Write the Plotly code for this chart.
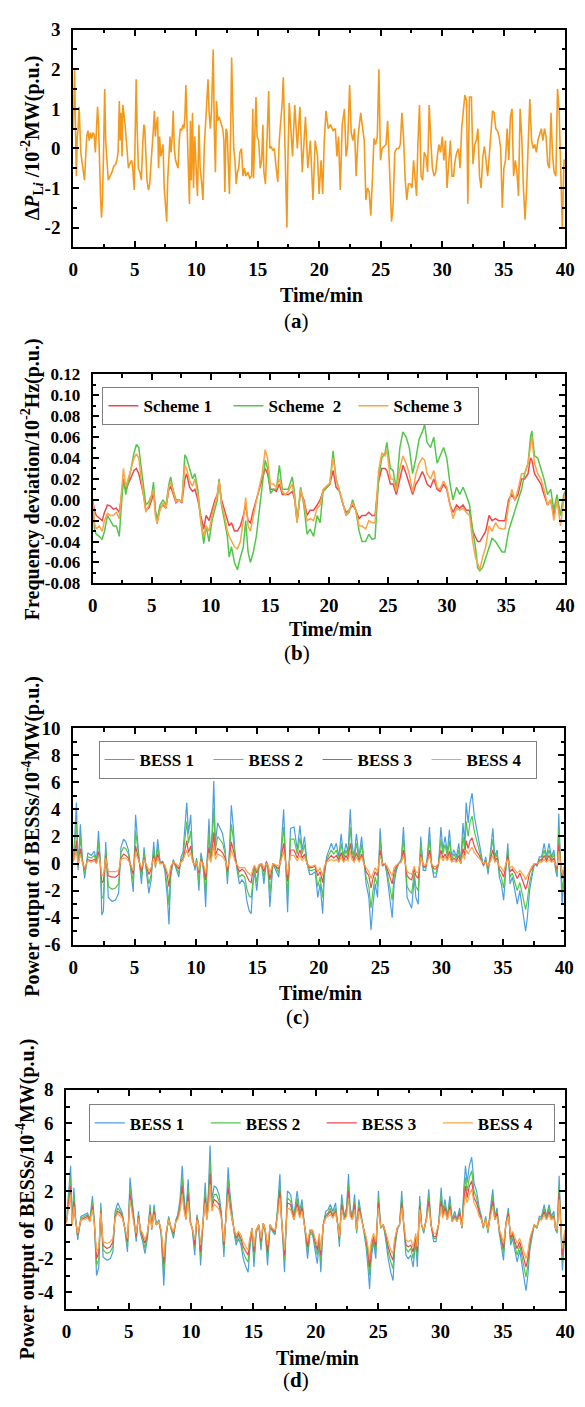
import plotly.graph_objects as go

W, H = 585, 1407
SERIF = "Liberation Serif"

# ---------------- (a) load disturbance ----------------
time_a = [
    0.00, 0.06, 0.11, 0.18, 0.26, 0.33, 0.40, 0.48, 0.55, 0.62,
    0.70, 0.80, 0.92, 1.00, 1.10, 1.20, 1.30, 1.40, 1.50, 1.60,
    1.70, 1.80, 1.90, 1.98, 2.06, 2.14, 2.22, 2.30, 2.38, 2.46,
    2.56, 2.64, 2.74, 2.85, 3.00, 3.15, 3.30, 3.45, 3.55, 3.65,
    3.75, 3.82, 3.90, 3.97, 4.04, 4.12, 4.22, 4.32, 4.40, 4.49,
    4.58, 4.66, 4.75, 4.84, 4.96, 5.04, 5.12, 5.20, 5.30, 5.42,
    5.54, 5.65, 5.74, 5.81, 5.90, 6.00, 6.12, 6.22, 6.32, 6.40,
    6.50, 6.60, 6.68, 6.76, 6.86, 6.94, 7.02, 7.12, 7.22, 7.30,
    7.40, 7.50, 7.60, 7.68, 7.76, 7.87, 7.95, 8.05, 8.13, 8.22,
    8.32, 8.42, 8.52, 8.62, 8.71, 8.82, 8.92, 9.00, 9.08, 9.16,
    9.25, 9.35, 9.45, 9.53, 9.60, 9.70, 9.78, 9.88, 9.98, 10.10,
    10.22, 10.32, 10.45, 10.55, 10.65, 10.75, 10.85, 10.96, 11.05, 11.15,
    11.25, 11.38, 11.47, 11.56, 11.65, 11.75, 11.85, 11.95, 12.05, 12.15,
    12.25, 12.33, 12.42, 12.52, 12.62, 12.70, 12.80, 12.88, 12.97, 13.05,
    13.15, 13.25, 13.35, 13.45, 13.55, 13.68, 13.80, 13.92, 14.04, 14.20,
    14.35, 14.50, 14.60, 14.66, 14.75, 14.86, 14.95, 15.08, 15.20, 15.32,
    15.42, 15.50, 15.63, 15.75, 15.89, 15.98, 16.10, 16.22, 16.35, 16.50,
    16.63, 16.75, 16.90, 17.00, 17.08, 17.15, 17.25, 17.37, 17.46, 17.56,
    17.83, 18.01, 18.22, 18.43, 18.62, 18.88, 19.07, 19.28, 19.49, 19.67,
    19.86, 19.99, 20.15, 20.28, 20.41, 20.55, 20.73, 20.91, 21.13, 21.31,
    21.44, 21.57, 21.71, 21.87, 22.05, 22.18, 22.31, 22.47, 22.60, 22.74,
    22.87, 23.00, 23.16, 23.37, 23.53, 23.66, 23.79, 23.92, 24.06, 24.19,
    24.32, 24.45, 24.58, 24.72, 24.85, 24.98, 25.11, 25.27, 25.43, 25.56,
    25.67, 25.77, 25.88, 26.01, 26.14, 26.30, 26.46, 26.59, 26.72, 26.85,
    26.99, 27.12, 27.25, 27.41, 27.54, 27.67, 27.80, 27.91, 28.02, 28.15,
    28.28, 28.41, 28.54, 28.68, 28.81, 28.94, 29.07, 29.20, 29.34, 29.47,
    29.60, 29.73, 29.86, 30.00, 30.13, 30.26, 30.39, 30.52, 30.66, 30.79,
    30.92, 31.05, 31.18, 31.32, 31.45, 31.58, 31.71, 31.84, 31.98, 32.08,
    32.21, 32.37, 32.50, 32.64, 32.77, 32.90, 33.03, 33.16, 33.30, 33.43,
    33.56, 33.69, 33.82, 33.96, 34.09, 34.22, 34.35, 34.48, 34.62, 34.75,
    34.88, 35.01, 35.14, 35.28, 35.41, 35.54, 35.67, 35.80, 35.94, 36.07,
    36.20, 36.33, 36.46, 36.60, 36.73, 36.86, 36.99, 37.12, 37.26, 37.39,
    37.52, 37.65, 37.78, 37.92, 38.05, 38.18, 38.31, 38.44, 38.58, 38.71,
    38.84, 38.97, 39.10, 39.24, 39.37, 39.50, 39.63, 39.76, 39.90, 40.00,
]
load_dev = [
    0.5, 1.2, 2.0, 0.6, -0.7, 0.3, 0.5, 1.05, 0.3, -0.1,
    -0.3, -0.6, -0.8, -0.3, 0.3, 0.45, 0.2, 0.4, 0.25, 0.4,
    0.35, -0.1, 0.5, 1.05, 0.6, -0.5, -1.2, -1.75, -1.3, -0.2,
    1.5, 0.2, -0.4, -0.8, -0.7, -0.6, -0.45, -0.4, -0.3, -0.1,
    1.2, 0.2, 0.9, -0.2, 1.1, 0.9, 0.6, 0.2, -0.2, -0.5,
    -0.4, -0.35, -0.3, -0.5, -1.05, 0.4, 1.75, 0.5, -0.5, -0.6,
    -0.8, 0.1, 0.6, 0.55, -0.2, -0.8, -1.05, -0.9, -0.4, -0.1,
    0.4, 0.95, 0.3, 0.6, 0.8, -0.5, 0.3, -0.2, 0.0, 0.1,
    -1.0, -1.4, -1.85, -0.8, -0.2, 0.3, -0.1, 0.3, 0.95, 0.0,
    -0.3, -0.4, -0.5, 0.2, 0.5, 0.45, 0.6, 0.5, 0.8, 1.6,
    0.8, -0.3, -1.4, 0.7, -0.8, 0.9, -1.0, 0.3, -0.6, -1.2,
    0.6, -0.5, -0.9, -1.3, 0.0, 0.5, 1.2, 1.75, 0.9, 0.5,
    1.0, 2.5, 0.5, -0.6, 1.2, 0.7, 0.8, 0.7, 0.6, 0.5,
    0.2, -1.1, 0.5, 0.4, -0.5, -1.15, 0.5, 2.3, 1.0, 0.0,
    -0.3, -0.9, -0.6, -0.5, -0.1, 0.0, -0.7, -0.5, -0.7, -0.6,
    -0.75, -0.7, 1.0, -0.75, 0.2, 1.3, 0.3, 0.2, -0.5, -0.3,
    0.6, -0.6, -0.9, 0.1, 1.45, 0.0, 0.05, -0.05, 0.0, -0.5,
    -0.85, 0.2, 0.8, 1.2, 1.8, 0.7, -0.5, -2.0, -0.2, 1.15,
    -0.2, 1.1, 0.0, 1.05, -0.6, 0.8, -0.5, 0.2, -1.3, 0.2,
    -0.2, -1.15, -0.3, -1.15, 0.2, 0.95, 0.5, 0.6, 0.45, 0.5,
    -0.2, 0.3, -1.05, 0.6, 1.0, -0.2, 0.1, 1.6, 0.4, 0.2,
    0.5, -0.7, 0.3, 0.9, 0.5, 0.2, -1.3, -1.0, -1.1, -1.7,
    -0.8, 0.25, 0.1, 0.3, 2.0, -0.3, 0.0, 0.05, 0.1, 0.7,
    -0.2, -1.4, -1.85, -1.4, -0.1, 0.0, 0.0, 0.1, 0.9, 0.3,
    -0.8, -1.3, -0.9, -0.9, -1.0, -0.3, -0.8, -1.2, 0.1, 1.1,
    -0.7, -0.8, -0.1, -0.2, -0.6, 1.1, 0.2, -0.5, -0.7, -0.6,
    -0.2, 0.1, -0.1, 0.3, -0.3, 0.2, -1.0, -0.5, 0.2, -0.7,
    -0.7, -0.3, -0.1, 0.0, -0.5, 0.5, 1.0, 1.35, 1.2, -1.4,
    1.3, 1.3, -0.4, 0.1, 0.2, 0.5, -0.7, -1.0, -0.2, 0.05,
    -0.3, -0.7, -0.2, 0.4, 0.95, 0.9, 0.5, 0.45, 0.3, 0.0,
    -1.5, -0.5, -0.3, 0.5, -0.3, 0.8, 1.0, -0.7, -0.3, -0.6,
    -1.2, 1.0, 0.3, -1.0, -1.8, -1.0, 0.3, 1.25, 0.2, 0.0,
    0.1, -0.1, 0.2, 0.35, 0.5, 0.2, 0.5, 0.3, -0.4, -0.5,
    0.9, -0.2, -0.6, -0.7, 1.5, 1.0, -0.8, -2.0, -0.3, -0.3,
]

# ---------------- (b) frequency deviation ----------------
time_b = [
    0.0, 0.15, 0.3, 0.55, 0.8, 1.0, 1.25, 1.5, 1.75, 2.0,
    2.25, 2.4, 2.6, 2.8, 3.0, 3.25, 3.5, 3.7, 3.9, 4.1,
    4.3, 4.5, 4.75, 5.0, 5.15, 5.3, 5.45, 5.7, 5.95, 6.2,
    6.45, 6.6, 6.8, 7.05, 7.3, 7.55, 7.8, 7.95, 8.2, 8.45,
    8.65, 8.9, 9.15, 9.4, 9.6, 9.85, 10.1, 10.35, 10.55, 10.7,
    10.9, 11.15, 11.4, 11.55, 11.75, 12.0, 12.25, 12.5, 12.75, 12.95,
    13.15, 13.35, 13.6, 13.85, 14.1, 14.35, 14.6, 14.8, 15.05, 15.3,
    15.55, 15.8, 16.05, 16.3, 16.55, 16.9, 17.1, 17.3, 17.6, 17.87,
    18.15, 18.4, 18.7, 19.0, 19.25, 19.5, 19.8, 20.07, 20.35, 20.6,
    20.9, 21.2, 21.45, 21.7, 22.0, 22.27, 22.55, 22.8, 23.1, 23.37,
    23.65, 23.9, 24.2, 24.47, 24.75, 24.9, 25.2, 25.43, 25.7, 26.0,
    26.26, 26.53, 26.8, 27.08, 27.36, 27.63, 27.9, 28.1, 28.3, 28.6,
    28.87, 29.15, 29.4, 29.7, 29.97, 30.25, 30.5, 30.8, 31.07, 31.35,
    31.6, 31.9, 32.17, 32.4, 32.58, 32.77, 33.0, 33.27, 33.55, 33.8,
    34.1, 34.37, 34.65, 34.9, 35.2, 35.47, 35.74, 36.0, 36.3, 36.57,
    36.85, 37.06, 37.17, 37.4, 37.67, 37.94, 38.2, 38.5, 38.77, 39.04,
    39.3, 39.6, 39.87, 40.0,
]
scheme1 = [
    0.0, -0.01, -0.015, -0.018, -0.02, -0.012, -0.005, -0.006, -0.009, -0.008,
    -0.012, 0.0, 0.02, 0.01, 0.015, 0.022, 0.028, 0.03, 0.025, 0.015,
    0.005, -0.01, -0.008, 0.0, 0.008, -0.01, -0.02, -0.008, -0.005, -0.008,
    0.01, 0.013, 0.005, -0.003, 0.0, -0.003, 0.02, 0.025, 0.012, 0.008,
    0.01, 0.0, -0.015, -0.028, -0.015, -0.02, -0.01, 0.0, 0.005, 0.018,
    0.0, -0.01, -0.02, -0.025, -0.022, -0.03, -0.03, -0.025, -0.015, -0.005,
    -0.02, -0.022, -0.01, 0.0, 0.01, 0.02, 0.03, 0.025, 0.01, 0.01,
    0.008, 0.015, 0.005, 0.005, 0.005, 0.008, 0.0, -0.02, 0.008, 0.0,
    -0.015, -0.01, -0.01, -0.005, 0.0, 0.008, 0.012, 0.015, 0.028, 0.012,
    0.008, -0.005, -0.012, -0.01, -0.005, -0.01, -0.018, -0.015, -0.015, -0.012,
    -0.015, -0.015, 0.018, 0.03, 0.03, 0.028, 0.015, 0.015, 0.005, 0.02,
    0.033, 0.025, 0.015, 0.005, 0.015, 0.02, 0.027, 0.022, 0.015, 0.012,
    0.02, 0.01, 0.008, 0.015, 0.01, -0.005, -0.012, -0.005, -0.008, -0.005,
    -0.01, -0.01, -0.03, -0.035, -0.04, -0.04, -0.035, -0.03, -0.015, -0.02,
    -0.018, -0.02, -0.02, -0.02, 0.0, 0.005, 0.0, 0.005, 0.02, 0.02,
    0.025, 0.04, 0.038, 0.025, 0.02, 0.015, 0.005, -0.005, 0.0, -0.015,
    0.0, -0.015, 0.002, 0.005,
]
scheme2 = [
    0.0, -0.028, -0.033, -0.035, -0.038, -0.03, -0.015, -0.02, -0.025, -0.025,
    -0.035, -0.01, 0.02, 0.005, 0.015, 0.03, 0.045, 0.053, 0.05, 0.03,
    0.01, -0.005, -0.002, 0.005, 0.017, -0.01, -0.02, -0.005, 0.0, -0.005,
    0.015, 0.022, 0.01, 0.0, 0.0, -0.002, 0.043, 0.04, 0.03, 0.02,
    0.025, 0.01, -0.02, -0.042, -0.025, -0.04, -0.02, -0.008, 0.0, 0.02,
    -0.005, -0.02, -0.035, -0.055, -0.045, -0.06, -0.067, -0.055, -0.045, -0.02,
    -0.05, -0.06, -0.05, -0.035, -0.01, 0.015, 0.038, 0.03, 0.006, 0.01,
    0.01, 0.033, 0.01, 0.01, 0.01, 0.022, 0.005, -0.022, 0.012, -0.005,
    -0.033, -0.028, -0.035, -0.015, -0.022, 0.008, 0.012, 0.015, 0.047, 0.02,
    0.008, -0.005, -0.015, -0.012, 0.0, -0.01, -0.03, -0.04, -0.04, -0.033,
    -0.038, -0.037, 0.02, 0.04, 0.045, 0.055, 0.03, 0.028, 0.01, 0.05,
    0.065, 0.06, 0.05, 0.025, 0.04, 0.058, 0.065, 0.072, 0.055, 0.05,
    0.06, 0.035, 0.042, 0.05, 0.04, 0.015, 0.0, 0.012, 0.005, 0.012,
    0.005, -0.005, -0.03, -0.045, -0.065, -0.068, -0.065, -0.055, -0.045, -0.037,
    -0.04, -0.045, -0.05, -0.05, -0.03, -0.02, -0.01, 0.0, 0.01, 0.025,
    0.035, 0.06, 0.066, 0.042, 0.04, 0.03, 0.02, 0.005, 0.01, -0.01,
    0.005, -0.015, 0.005, 0.008,
]
scheme3 = [
    0.0, -0.022, -0.028, -0.025, -0.03, -0.02, -0.013, -0.015, -0.015, -0.012,
    -0.018, 0.0, 0.03, 0.012, 0.02, 0.03, 0.04, 0.044, 0.04, 0.02,
    0.005, -0.012, -0.005, 0.005, 0.01, -0.015, -0.023, -0.01, -0.003, -0.008,
    0.012, 0.017, 0.008, -0.002, 0.0, -0.002, 0.033, 0.03, 0.018, 0.013,
    0.02, 0.005, -0.02, -0.035, -0.025, -0.03, -0.015, -0.005, 0.005, 0.018,
    -0.003, -0.015, -0.03, -0.035, -0.04, -0.045, -0.047, -0.04, -0.02, 0.002,
    -0.025, -0.03, -0.015, 0.0, 0.012, 0.025, 0.048, 0.04, 0.015, 0.015,
    0.012, 0.02, 0.008, 0.005, 0.008, 0.015, 0.0, -0.022, 0.01, -0.002,
    -0.02, -0.018, -0.02, -0.008, -0.005, 0.01, 0.013, 0.016, 0.04, 0.02,
    0.008, -0.005, -0.015, -0.01, -0.003, -0.01, -0.025, -0.025, -0.028, -0.02,
    -0.022, -0.022, 0.028, 0.045, 0.042, 0.048, 0.02, 0.02, 0.008, 0.03,
    0.042, 0.035, 0.025, 0.007, 0.025, 0.035, 0.04, 0.038, 0.025, 0.02,
    0.028, 0.012, 0.01, 0.018, 0.012, -0.005, -0.018, -0.008, -0.01, -0.008,
    -0.012, -0.015, -0.04, -0.055, -0.062, -0.067, -0.055, -0.045, -0.025, -0.03,
    -0.022, -0.027, -0.028, -0.028, -0.005, 0.01, 0.0, 0.01, 0.025, 0.025,
    0.035, 0.055, 0.06, 0.035, 0.025, 0.02, 0.01, -0.005, 0.0, -0.02,
    0.0, -0.025, 0.0, 0.005,
]

# ---------------- (c) BESS outputs, case 1 ----------------
time_c = [
    0.00, 0.13, 0.26, 0.40, 0.58, 0.74, 0.93, 1.19, 1.46, 1.72,
    1.90, 2.06, 2.20, 2.33, 2.46, 2.65, 2.86, 3.17, 3.44, 3.70,
    3.89, 4.10, 4.28, 4.50, 4.70, 4.89, 5.08, 5.21, 5.37, 5.56,
    5.77, 5.95, 6.16, 6.35, 6.56, 6.70, 6.88, 7.09, 7.28, 7.46,
    7.67, 7.80, 7.94, 8.15, 8.33, 8.60, 8.78, 8.94, 9.04, 9.25,
    9.39, 9.57, 9.73, 9.92, 10.05, 10.24, 10.40, 10.53, 10.66, 10.79,
    10.92, 11.06, 11.19, 11.32, 11.45, 11.58, 11.77, 11.95, 12.17, 12.38,
    12.56, 12.70, 12.88, 13.03, 13.16, 13.35, 13.54, 13.75, 13.97, 14.15,
    14.34, 14.50, 14.60, 14.76, 14.95, 15.13, 15.34, 15.53, 15.74, 15.87,
    16.02, 16.27, 16.53, 16.74, 16.93, 17.14, 17.27, 17.46, 17.70, 17.99,
    18.25, 18.47, 18.65, 18.84, 19.05, 19.26, 19.44, 19.71, 19.92, 20.11,
    20.32, 20.45, 20.64, 20.85, 21.03, 21.22, 21.43, 21.64, 21.83, 22.01,
    22.22, 22.38, 22.57, 22.70, 22.88, 23.07, 23.28, 23.49, 23.68, 23.86,
    24.08, 24.26, 24.42, 24.60, 24.79, 25.00, 25.19, 25.40, 25.58, 25.80,
    25.98, 26.14, 26.32, 26.51, 26.72, 26.90, 27.04, 27.20, 27.38, 27.57,
    27.78, 27.91, 28.10, 28.31, 28.52, 28.71, 28.84, 29.02, 29.18, 29.37,
    29.55, 29.76, 29.95, 30.11, 30.29, 30.48, 30.64, 30.82, 31.01, 31.22,
    31.41, 31.56, 31.75, 31.88, 32.01, 32.17, 32.33, 32.49, 32.67, 32.86,
    33.07, 33.26, 33.42, 33.60, 33.79, 34.00, 34.18, 34.34, 34.53, 34.71,
    34.87, 35.06, 35.24, 35.40, 35.58, 35.77, 35.98, 36.17, 36.38, 36.56,
    36.72, 36.85, 36.99, 37.17, 37.36, 37.57, 37.78, 37.97, 38.15, 38.36,
    38.55, 38.76, 38.95, 39.16, 39.29, 39.42, 39.55, 39.68, 39.82, 39.95,
    40.00,
]
c_bess1 = [
    0.3, 2.0, 4.5, -0.5, 2.9, 0.5, -1.1, 0.8, 0.6, 0.9,
    0.2, 2.4, 0.3, -3.8, -3.5, 1.6, -2.5, -2.8, -2.7, -2.2,
    1.2, 1.8, 1.6, 1.0, -0.5, -2.1, 3.6, 2.0, 0.3, -1.5,
    1.2, -0.5, -2.2, -1.2, 1.6, -0.3, 1.8, 0.0, 0.2, -0.5,
    -2.5, -4.5, -1.0, 0.3, -0.2, -1.0, 0.5, 0.8, 2.0, 4.5,
    2.2, 3.6, 0.5, -0.5, 0.4, -2.0, 0.8, 0.2, -1.0, -3.2,
    0.5, 3.3, 0.4, 2.5, 6.1, 1.5, 3.0, 2.6, 2.2, 1.0,
    -1.5, 0.5, 4.3, 2.8, 1.0, -0.5, -1.5, -1.2, -1.5, -2.8,
    -3.5, -3.7, -2.0, -0.5, -2.0, -0.3, 0.0, -1.5, 0.2, -0.5,
    -3.2, 0.0, -0.5, -1.0, 1.0, 4.0, 1.0, -3.6, 2.6, 2.7,
    1.0, 2.8, 1.0, 2.0, 0.0, -0.8, -0.8, -0.6, -2.5, -1.5,
    -3.7, -1.0, 0.5, 1.0, 1.5, 1.0, 1.5, 0.5, 2.2, 0.5,
    1.5, 0.8, 4.0, 1.5, 0.5, 2.2, 0.5, 2.0, 0.2, -1.5,
    -2.5, -4.9, -3.0, -1.5, -2.5, 2.6, -0.2, 0.0, -1.0, -2.8,
    -4.0, -1.5, -0.5, 0.0, 0.3, 2.7, 0.0, -2.5, -2.9, -3.3,
    -1.0, -2.5, -3.0, 2.0, -0.5, -0.5, 0.5, 2.7, 0.0, -1.0,
    -1.0, 0.0, 2.7, 1.0, 2.0, 0.8, 2.5, 0.5, 1.0, 0.5,
    1.5, 0.0, 3.0, 1.5, 4.5, 3.0, 4.5, 5.2, 3.5, 2.5,
    1.5, 0.5, -0.2, 0.5, -0.8, 1.0, 2.6, 0.5, 1.0, -1.0,
    -1.5, -2.7, 0.0, 1.5, -1.5, -1.0, -2.0, -3.0, -2.0, -3.2,
    -4.0, -5.0, -4.0, -2.0, -1.0, 0.0, -0.2, 0.5, 0.5, 1.5,
    0.5, 1.5, 0.5, 1.0, -0.5, -1.0, 3.7, 0.5, -3.0, -1.5,
    -1.0,
]
c_bess2 = [
    0.2, 1.4, 3.1, -0.3, 2.0, 0.3, -0.7, 0.5, 0.4, 0.6,
    0.1, 1.6, 0.2, -2.6, -2.4, 1.1, -1.7, -1.9, -1.8, -1.5,
    0.8, 1.2, 1.1, 0.7, -0.3, -1.4, 2.4, 1.4, 0.2, -1.0,
    0.8, -0.3, -1.5, -0.8, 1.1, -0.2, 1.2, 0.0, 0.1, -0.3,
    -1.7, -3.1, -0.7, 0.2, -0.1, -0.7, 0.3, 0.5, 1.4, 3.1,
    1.5, 2.4, 0.3, -0.3, 0.3, -1.4, 0.5, 0.1, -0.7, -2.2,
    0.3, 2.2, 0.3, 1.7, 4.1, 1.0, 2.0, 1.8, 1.5, 0.7,
    -1.0, 0.3, 2.9, 1.9, 0.7, -0.3, -1.0, -0.8, -1.0, -1.9,
    -2.4, -2.5, -1.4, -0.3, -1.4, -0.2, 0.0, -1.0, 0.1, -0.3,
    -2.2, 0.0, -0.3, -0.7, 0.7, 2.7, 0.7, -2.4, 1.8, 1.8,
    0.7, 1.9, 0.7, 1.4, 0.0, -0.5, -0.5, -0.4, -1.7, -1.0,
    -2.5, -0.7, 0.3, 0.7, 1.0, 0.7, 1.0, 0.3, 1.5, 0.3,
    1.0, 0.5, 2.7, 1.0, 0.3, 1.5, 0.3, 1.4, 0.1, -1.0,
    -1.7, -3.3, -2.0, -1.0, -1.7, 1.8, -0.1, 0.0, -0.7, -1.9,
    -2.7, -1.0, -0.3, 0.0, 0.2, 1.8, 0.0, -1.7, -2.0, -2.2,
    -0.7, -1.7, -2.0, 1.4, -0.3, -0.3, 0.3, 1.8, 0.0, -0.7,
    -0.7, 0.0, 1.8, 0.7, 1.4, 0.5, 1.7, 0.3, 0.7, 0.3,
    1.0, 0.0, 2.0, 1.0, 3.1, 2.0, 3.1, 3.5, 2.4, 1.7,
    1.0, 0.3, -0.1, 0.3, -0.5, 0.7, 1.8, 0.3, 0.7, -0.7,
    -1.0, -1.8, 0.0, 1.0, -1.0, -0.7, -1.4, -2.0, -1.4, -2.2,
    -2.7, -3.4, -2.7, -1.4, -0.7, 0.0, -0.1, 0.3, 0.3, 1.0,
    0.3, 1.0, 0.3, 0.7, -0.3, -0.7, 2.5, 0.3, -2.0, -1.0,
    -0.7,
]
c_bess3 = [
    0.1, 0.7, 1.7, -0.2, 1.1, 0.2, -0.4, 0.3, 0.2, 0.3,
    0.1, 0.9, 0.1, -1.4, -1.3, 0.6, -0.9, -1.0, -1.0, -0.8,
    0.4, 0.7, 0.6, 0.4, -0.2, -0.8, 1.3, 0.7, 0.1, -0.6,
    0.4, -0.2, -0.8, -0.4, 0.6, -0.1, 0.7, 0.0, 0.1, -0.2,
    -0.9, -1.7, -0.4, 0.1, -0.1, -0.4, 0.2, 0.3, 0.7, 1.7,
    0.8, 1.3, 0.2, -0.2, 0.1, -0.7, 0.3, 0.1, -0.4, -1.2,
    0.2, 1.2, 0.1, 0.9, 2.3, 0.6, 1.1, 1.0, 0.8, 0.4,
    -0.6, 0.2, 1.6, 1.0, 0.4, -0.2, -0.6, -0.4, -0.6, -1.0,
    -1.3, -1.4, -0.7, -0.2, -0.7, -0.1, 0.0, -0.6, 0.1, -0.2,
    -1.2, 0.0, -0.2, -0.4, 0.4, 1.5, 0.4, -1.3, 1.0, 1.0,
    0.4, 1.0, 0.4, 0.7, 0.0, -0.3, -0.3, -0.2, -0.9, -0.6,
    -1.4, -0.4, 0.2, 0.4, 0.6, 0.4, 0.6, 0.2, 0.8, 0.2,
    0.6, 0.3, 1.5, 0.6, 0.2, 0.8, 0.2, 0.7, 0.1, -0.6,
    -0.9, -1.8, -1.1, -0.6, -0.9, 1.0, -0.1, 0.0, -0.4, -1.0,
    -1.5, -0.6, -0.2, 0.0, 0.1, 1.0, 0.0, -0.9, -1.1, -1.2,
    -0.4, -0.9, -1.1, 0.7, -0.2, -0.2, 0.2, 1.0, 0.0, -0.4,
    -0.4, 0.0, 1.0, 0.4, 0.7, 0.3, 0.9, 0.2, 0.4, 0.2,
    0.6, 0.0, 1.1, 0.6, 1.7, 1.1, 1.7, 1.9, 1.3, 0.9,
    0.6, 0.2, -0.1, 0.2, -0.3, 0.4, 1.0, 0.2, 0.4, -0.4,
    -0.6, -1.0, 0.0, 0.6, -0.6, -0.4, -0.7, -1.1, -0.7, -1.2,
    -1.5, -1.9, -1.5, -0.7, -0.4, 0.0, -0.1, 0.2, 0.2, 0.6,
    0.2, 0.6, 0.2, 0.4, -0.2, -0.4, 1.4, 0.2, -1.1, -0.6,
    -0.4,
]
c_bess4 = [
    0.1, 0.5, 1.0, -0.1, 0.7, 0.1, -0.3, 0.2, 0.1, 0.2,
    0.0, 0.6, 0.1, -0.9, -0.8, 0.4, -0.6, -0.6, -0.6, -0.5,
    0.3, 0.4, 0.4, 0.2, -0.1, -0.5, 0.8, 0.5, 0.1, -0.3,
    0.3, -0.1, -0.5, -0.3, 0.4, -0.1, 0.4, 0.0, 0.0, -0.1,
    -0.6, -1.0, -0.2, 0.1, 0.0, -0.2, 0.1, 0.2, 0.5, 1.0,
    0.5, 0.8, 0.1, -0.1, 0.1, -0.5, 0.2, 0.0, -0.2, -0.7,
    0.1, 0.8, 0.1, 0.6, 1.4, 0.3, 0.7, 0.6, 0.5, 0.2,
    -0.3, 0.1, 1.0, 0.6, 0.2, -0.1, -0.3, -0.3, -0.3, -0.6,
    -0.8, -0.9, -0.5, -0.1, -0.5, -0.1, 0.0, -0.3, 0.0, -0.1,
    -0.7, 0.0, -0.1, -0.2, 0.2, 0.9, 0.2, -0.8, 0.6, 0.6,
    0.2, 0.6, 0.2, 0.5, 0.0, -0.2, -0.2, -0.1, -0.6, -0.3,
    -0.9, -0.2, 0.1, 0.2, 0.3, 0.2, 0.3, 0.1, 0.5, 0.1,
    0.3, 0.2, 0.9, 0.3, 0.1, 0.5, 0.1, 0.5, 0.0, -0.3,
    -0.6, -1.1, -0.7, -0.3, -0.6, 0.6, 0.0, 0.0, -0.2, -0.6,
    -0.9, -0.3, -0.1, 0.0, 0.1, 0.6, 0.0, -0.6, -0.7, -0.8,
    -0.2, -0.6, -0.7, 0.5, -0.1, -0.1, 0.1, 0.6, 0.0, -0.2,
    -0.2, 0.0, 0.6, 0.2, 0.5, 0.2, 0.6, 0.1, 0.2, 0.1,
    0.3, 0.0, 0.7, 0.3, 1.0, 0.7, 1.0, 1.2, 0.8, 0.6,
    0.3, 0.1, 0.0, 0.1, -0.2, 0.2, 0.6, 0.1, 0.2, -0.2,
    -0.3, -0.6, 0.0, 0.3, -0.3, -0.2, -0.5, -0.7, -0.5, -0.7,
    -0.9, -1.2, -0.9, -0.5, -0.2, 0.0, 0.0, 0.1, 0.1, 0.3,
    0.1, 0.3, 0.1, 0.2, -0.1, -0.2, 0.9, 0.1, -0.7, -0.3,
    -0.2,
]

# ---------------- (d) BESS outputs, case 2 ----------------
time_d = [
    0.00, 0.16, 0.34, 0.47, 0.60, 0.73, 0.91, 1.17, 1.43, 1.70,
    1.88, 2.09, 2.24, 2.42, 2.60, 2.76, 2.94, 3.26, 3.52, 3.73,
    3.91, 4.12, 4.30, 4.48, 4.69, 4.90, 5.10, 5.26, 5.42, 5.60,
    5.78, 5.94, 6.12, 6.30, 6.50, 6.71, 6.85, 7.03, 7.21, 7.42,
    7.60, 7.81, 8.00, 8.20, 8.38, 8.59, 8.78, 8.93, 9.11, 9.29,
    9.42, 9.58, 9.76, 9.94, 10.10, 10.29, 10.47, 10.60, 10.76, 10.95,
    11.13, 11.26, 11.39, 11.52, 11.67, 11.85, 12.03, 12.24, 12.42, 12.63,
    12.76, 12.97, 13.10, 13.28, 13.46, 13.61, 13.80, 14.00, 14.18, 14.39,
    14.57, 14.70, 14.88, 15.04, 15.22, 15.43, 15.60, 15.79, 15.95, 16.13,
    16.34, 16.52, 16.73, 16.91, 17.12, 17.25, 17.49, 17.72, 17.98, 18.24,
    18.50, 18.71, 18.89, 19.15, 19.34, 19.54, 19.75, 19.94, 20.12, 20.27,
    20.40, 20.59, 20.80, 20.98, 21.16, 21.37, 21.58, 21.76, 21.89, 22.07,
    22.28, 22.46, 22.62, 22.75, 22.93, 23.11, 23.27, 23.45, 23.66, 23.84,
    24.03, 24.18, 24.31, 24.44, 24.63, 24.81, 25.02, 25.20, 25.41, 25.59,
    25.80, 26.01, 26.19, 26.32, 26.53, 26.71, 26.89, 27.05, 27.23, 27.41,
    27.62, 27.80, 28.01, 28.14, 28.33, 28.48, 28.66, 28.87, 29.06, 29.24,
    29.45, 29.63, 29.84, 30.05, 30.18, 30.36, 30.54, 30.75, 30.93, 31.14,
    31.32, 31.53, 31.71, 31.87, 32.00, 32.13, 32.31, 32.50, 32.68, 32.89,
    33.10, 33.28, 33.43, 33.62, 33.80, 34.01, 34.19, 34.35, 34.53, 34.71,
    34.87, 35.05, 35.23, 35.44, 35.62, 35.78, 35.96, 36.14, 36.35, 36.54,
    36.69, 36.85, 37.00, 37.16, 37.32, 37.52, 37.73, 37.92, 38.10, 38.31,
    38.49, 38.70, 38.88, 39.09, 39.22, 39.35, 39.51, 39.61, 39.77, 39.92,
    40.00,
]
d_bess1 = [
    0.2, 2.0, 3.5, 0.0, 2.2, 0.5, -0.9, 0.5, 0.6, 0.7,
    0.3, 1.7, 0.2, -3.0, -2.5, 1.3, -1.9, -2.1, -2.0, -1.6,
    0.8, 1.3, 1.0, 0.7, -0.3, -1.6, 2.8, 1.5, 0.0, -1.0,
    0.8, -0.5, -1.0, -1.7, -0.8, 1.2, -0.3, 1.2, 0.0, 0.3,
    -0.6, -3.6, -0.7, 0.5, -0.2, -0.8, 0.3, 0.6, 1.5, 3.5,
    1.8, 0.5, 2.7, 0.2, -0.3, -1.8, 0.6, 0.0, -2.4, 0.3,
    2.5, 0.5, 2.0, 4.7, 1.5, 2.3, 2.2, 1.8, 0.8, -1.9,
    0.5, 3.4, 2.0, 0.5, -0.5, -1.2, -0.8, -1.2, -2.0, -2.5,
    -2.8, -1.5, -0.3, -2.5, -0.5, 0.0, -1.5, 0.1, -0.5, -2.4,
    0.0, -0.4, -0.6, 0.8, 3.0, 0.5, -2.8, 2.0, 1.8, 0.5,
    2.0, 0.8, 1.5, -0.5, -2.0, -0.5, -0.6, -1.5, -2.3, -1.0,
    -2.8, 0.0, 0.8, 0.9, 1.2, 0.8, 1.3, 0.0, -1.3, 1.8,
    0.5, 1.0, 3.0, 1.0, 0.5, 1.8, -0.5, 1.5, 0.5, -0.5,
    -1.3, -2.5, -3.8, -2.0, -1.0, -2.0, 2.0, -0.2, 0.0, -0.8,
    -2.0, -2.8, -3.3, -1.5, -0.3, 0.0, 2.0, 0.0, -1.8, -2.0,
    -1.8, -2.5, -1.0, -2.5, 1.7, 0.0, -0.5, 0.5, 2.1, 0.0,
    -1.0, -1.0, 0.0, 2.2, 0.8, 1.5, 0.5, 1.7, 0.3, 0.8,
    0.3, 1.0, -0.2, 2.2, 3.5, 2.5, 3.5, 4.0, 2.5, 2.0,
    1.0, 0.5, -0.2, 0.5, -0.5, 1.0, 2.1, 0.5, 1.0, -0.5,
    -1.2, -2.1, 0.0, 1.0, -1.2, -0.8, -1.5, -2.2, -1.5, -2.5,
    -3.0, -3.9, -3.0, -1.5, -0.8, 0.0, -0.2, 0.5, 0.5, 1.2,
    0.5, 1.2, 0.5, 0.8, -0.3, -0.5, 2.9, 0.5, -2.7, -1.0,
    -0.5,
]
d_bess2 = [
    0.2, 1.6, 2.8, 0.0, 1.8, 0.4, -0.7, 0.4, 0.5, 0.6,
    0.2, 1.4, 0.2, -2.4, -2.0, 1.0, -1.5, -1.7, -1.6, -1.3,
    0.6, 1.0, 0.8, 0.6, -0.2, -1.3, 2.2, 1.2, 0.0, -0.8,
    0.6, -0.4, -0.8, -1.4, -0.6, 1.0, -0.2, 1.0, 0.0, 0.2,
    -0.5, -2.9, -0.6, 0.4, -0.2, -0.6, 0.2, 0.5, 1.2, 2.8,
    1.4, 0.4, 2.2, 0.2, -0.2, -1.4, 0.5, 0.0, -1.9, 0.2,
    2.0, 0.4, 1.6, 3.8, 1.2, 1.8, 1.8, 1.4, 0.6, -1.5,
    0.4, 2.7, 1.6, 0.4, -0.4, -1.0, -0.6, -1.0, -1.6, -2.0,
    -2.2, -1.2, -0.2, -2.0, -0.4, 0.0, -1.2, 0.1, -0.4, -1.9,
    0.0, -0.3, -0.5, 0.6, 2.4, 0.4, -2.2, 1.6, 1.4, 0.4,
    1.6, 0.6, 1.2, -0.4, -1.6, -0.4, -0.5, -1.2, -1.8, -0.8,
    -2.2, 0.0, 0.6, 0.7, 1.0, 0.6, 1.0, 0.0, -1.0, 1.4,
    0.4, 0.8, 2.4, 0.8, 0.4, 1.4, -0.4, 1.2, 0.4, -0.4,
    -1.0, -2.0, -3.0, -1.6, -0.8, -1.6, 1.6, -0.2, 0.0, -0.6,
    -1.6, -2.2, -2.6, -1.2, -0.2, 0.0, 1.6, 0.0, -1.4, -1.6,
    -1.4, -2.0, -0.8, -2.0, 1.4, 0.0, -0.4, 0.4, 1.7, 0.0,
    -0.8, -0.8, 0.0, 1.8, 0.6, 1.2, 0.4, 1.4, 0.2, 0.6,
    0.2, 0.8, -0.2, 1.8, 2.8, 2.0, 2.8, 3.2, 2.0, 1.6,
    0.8, 0.4, -0.2, 0.4, -0.4, 0.8, 1.7, 0.4, 0.8, -0.4,
    -1.0, -1.7, 0.0, 0.8, -1.0, -0.6, -1.2, -1.8, -1.2, -2.0,
    -2.4, -3.1, -2.4, -1.2, -0.6, 0.0, -0.2, 0.4, 0.4, 1.0,
    0.4, 1.0, 0.4, 0.6, -0.2, -0.4, 2.3, 0.4, -2.2, -0.8,
    -0.4,
]
d_bess3 = [
    0.1, 1.3, 2.3, 0.0, 1.4, 0.3, -0.6, 0.3, 0.4, 0.5,
    0.2, 1.1, 0.1, -2.0, -1.6, 0.8, -1.2, -1.4, -1.3, -1.0,
    0.5, 0.8, 0.7, 0.5, -0.2, -1.0, 1.8, 1.0, 0.0, -0.7,
    0.5, -0.3, -0.7, -1.1, -0.5, 0.8, -0.2, 0.8, 0.0, 0.2,
    -0.4, -2.3, -0.5, 0.3, -0.1, -0.5, 0.2, 0.4, 1.0, 2.3,
    1.2, 0.3, 1.8, 0.1, -0.2, -1.2, 0.4, 0.0, -1.6, 0.2,
    1.6, 0.3, 1.3, 3.0, 1.0, 1.5, 1.4, 1.2, 0.5, -1.2,
    0.3, 2.2, 1.3, 0.3, -0.3, -0.8, -0.5, -0.8, -1.3, -1.6,
    -1.8, -1.0, -0.2, -1.6, -0.3, 0.0, -1.0, 0.1, -0.3, -1.6,
    0.0, -0.3, -0.4, 0.5, 2.0, 0.3, -1.8, 1.3, 1.2, 0.3,
    1.3, 0.5, 1.0, -0.3, -1.3, -0.3, -0.4, -1.0, -1.5, -0.7,
    -1.8, 0.0, 0.5, 0.6, 0.8, 0.5, 0.8, 0.0, -0.8, 1.2,
    0.3, 0.7, 2.0, 0.7, 0.3, 1.2, -0.3, 1.0, 0.3, -0.3,
    -0.8, -1.6, -2.5, -1.3, -0.7, -1.3, 1.3, -0.1, 0.0, -0.5,
    -1.3, -1.8, -2.1, -1.0, -0.2, 0.0, 1.3, 0.0, -1.2, -1.3,
    -1.2, -1.6, -0.7, -1.6, 1.1, 0.0, -0.3, 0.3, 1.4, 0.0,
    -0.7, -0.7, 0.0, 1.4, 0.5, 1.0, 0.3, 1.1, 0.2, 0.5,
    0.2, 0.7, -0.1, 1.4, 2.3, 1.6, 2.3, 2.6, 1.6, 1.3,
    0.7, 0.3, -0.1, 0.3, -0.3, 0.7, 1.4, 0.3, 0.7, -0.3,
    -0.8, -1.4, 0.0, 0.7, -0.8, -0.5, -1.0, -1.4, -1.0, -1.6,
    -2.0, -2.5, -2.0, -1.0, -0.5, 0.0, -0.1, 0.3, 0.3, 0.8,
    0.3, 0.8, 0.3, 0.5, -0.2, -0.3, 1.9, 0.3, -1.8, -0.7,
    -0.3,
]
d_bess4 = [
    0.1, 1.0, 1.8, 0.0, 1.1, 0.3, -0.5, 0.3, 0.3, 0.4,
    0.2, 0.9, 0.1, -1.6, -1.3, 0.7, -1.0, -1.1, -1.0, -0.8,
    0.4, 0.7, 0.5, 0.4, -0.2, -0.8, 1.5, 0.8, 0.0, -0.5,
    0.4, -0.3, -0.5, -0.9, -0.4, 0.6, -0.2, 0.6, 0.0, 0.2,
    -0.3, -1.9, -0.4, 0.3, -0.1, -0.4, 0.2, 0.3, 0.8, 1.8,
    0.9, 0.3, 1.4, 0.1, -0.2, -0.9, 0.3, 0.0, -1.2, 0.2,
    1.3, 0.3, 1.0, 2.4, 0.8, 1.2, 1.1, 0.9, 0.4, -1.0,
    0.3, 1.8, 1.0, 0.3, -0.3, -0.6, -0.4, -0.6, -1.0, -1.3,
    -1.5, -0.8, -0.2, -1.3, -0.3, 0.0, -0.8, 0.1, -0.3, -1.2,
    0.0, -0.2, -0.3, 0.4, 1.6, 0.3, -1.5, 1.0, 0.9, 0.3,
    1.0, 0.4, 0.8, -0.3, -1.0, -0.3, -0.3, -0.8, -1.2, -0.5,
    -1.5, 0.0, 0.4, 0.5, 0.6, 0.4, 0.7, 0.0, -0.7, 0.9,
    0.3, 0.5, 1.6, 0.5, 0.3, 0.9, -0.3, 0.8, 0.3, -0.3,
    -0.7, -1.3, -2.0, -1.0, -0.5, -1.0, 1.0, -0.1, 0.0, -0.4,
    -1.0, -1.5, -1.7, -0.8, -0.2, 0.0, 1.0, 0.0, -0.9, -1.0,
    -0.9, -1.3, -0.5, -1.3, 0.9, 0.0, -0.3, 0.3, 1.1, 0.0,
    -0.5, -0.5, 0.0, 1.1, 0.4, 0.8, 0.3, 0.9, 0.2, 0.4,
    0.2, 0.5, -0.1, 1.1, 1.8, 1.3, 1.8, 2.1, 1.3, 1.0,
    0.5, 0.3, -0.1, 0.3, -0.3, 0.5, 1.1, 0.3, 0.5, -0.3,
    -0.6, -1.1, 0.0, 0.5, -0.6, -0.4, -0.8, -1.1, -0.8, -1.3,
    -1.6, -2.0, -1.6, -0.8, -0.4, 0.0, -0.1, 0.3, 0.3, 0.6,
    0.3, 0.6, 0.3, 0.4, -0.2, -0.3, 1.5, 0.3, -1.4, -0.5,
    -0.3,
]

# ---------------- tick labels ----------------
x_ticks = [0, 5, 10, 15, 20, 25, 30, 35, 40]
x_tick_text = ["0", "5", "10", "15", "20", "25", "30", "35", "40"]
a_ticks = [-2, -1, 0, 1, 2, 3]
a_tick_text = ["-2", "-1", "0", "1", "2", "3"]
b_ticks = [-0.08, -0.06, -0.04, -0.02, 0.0, 0.02, 0.04, 0.06, 0.08, 0.10, 0.12]
b_tick_text = ["-0.08", "-0.06", "-0.04", "-0.02", "0.00", "0.02", "0.04",
               "0.06", "0.08", "0.10", "0.12"]
c_ticks = [-6, -4, -2, 0, 2, 4, 6, 8, 10]
c_tick_text = ["-6", "-4", "-2", "0", "2", "4", "6", "8", "10"]
d_ticks = [-4, -2, 0, 2, 4, 6, 8]
d_tick_text = ["-4", "-2", "0", "2", "4", "6", "8"]

ORANGE_A = "#F4991C"
RED = "#EA4A4F"
GREEN = "#55C64C"
ORANGE = "#FAA545"
BLUE = "#4C9FDD"


def dom_x(left, right):
    return [left / W, right / W]


def dom_y(top, bottom):
    return [1 - bottom / H, 1 - top / H]


fig = go.Figure()

fig.add_trace(go.Scatter(x=time_a, y=load_dev, mode="lines",
                         line=dict(color=ORANGE_A, width=1.6),
                         showlegend=False, xaxis="x", yaxis="y"))

for nm, ys, col in [("Scheme 1", scheme1, RED),
                    ("Scheme\u00a0 2", scheme2, GREEN),
                    ("Scheme 3", scheme3, ORANGE)]:
    fig.add_trace(go.Scatter(x=time_b, y=ys, name=nm, mode="lines",
                             line=dict(color=col, width=1.5),
                             xaxis="x2", yaxis="y2", legend="legend"))

for nm, ys, col in [("BESS 1", c_bess1, BLUE), ("BESS 2", c_bess2, GREEN),
                    ("BESS 3", c_bess3, RED), ("BESS 4", c_bess4, ORANGE)]:
    fig.add_trace(go.Scatter(x=time_c, y=ys, name=nm, mode="lines",
                             line=dict(color=col, width=1.2),
                             xaxis="x3", yaxis="y3", legend="legend2"))

for nm, ys, col in [("BESS 1", d_bess1, BLUE), ("BESS 2", d_bess2, GREEN),
                    ("BESS 3", d_bess3, RED), ("BESS 4", d_bess4, ORANGE)]:
    fig.add_trace(go.Scatter(x=time_d, y=ys, name=nm, mode="lines",
                             line=dict(color=col, width=1.2),
                             xaxis="x4", yaxis="y4", legend="legend3"))


def axis_base(size):
    return dict(showline=True, linecolor="black", linewidth=2,
                mirror="allticks", ticks="inside", ticklen=6, tickwidth=2,
                tickcolor="black", showgrid=False, zeroline=False,
                tickfont=dict(family=SERIF, size=size, color="black", weight="bold"))


def xaxis_cfg(dom, anchor):
    d = axis_base(19)
    d.update(domain=dom, anchor=anchor, range=[0, 40], tickmode="array",
             tickvals=x_ticks, ticktext=x_tick_text, ticklabelstandoff=4,
             minor=dict(ticks="inside", ticklen=3.5, tickwidth=1.5, tickcolor="black",
                        tickmode="linear", tick0=0, dtick=2.5, showgrid=False))
    return d


def yaxis_cfg(dom, anchor, rng, vals, text, mdt, size=19):
    d = axis_base(size)
    d.update(domain=dom, anchor=anchor, range=rng, tickmode="array",
             tickvals=vals, ticktext=text, ticklabelstandoff=7,
             minor=dict(ticks="inside", ticklen=3.5, tickwidth=1.5, tickcolor="black",
                        tickmode="linear", tick0=0, dtick=mdt, showgrid=False))
    return d


def legend_cfg(left, top, ew):
    return dict(orientation="h", x=left / W, y=1 - top / H, xanchor="left",
                yanchor="top", xref="paper", yref="paper", bgcolor="white",
                bordercolor="#808080", borderwidth=1, entrywidth=ew,
                entrywidthmode="pixels", itemwidth=30, traceorder="normal",
                font=dict(family=SERIF, size=17, color="black", weight="bold"))


pa = dict(x=dom_x(70, 575), y=dom_y(20, 241))
pb = dict(x=dom_x(90, 575), y=dom_y(370, 582))
pc = dict(x=dom_x(70, 574), y=dom_y(729, 949))
pd = dict(x=dom_x(63, 575), y=dom_y(1096, 1319))

fig.update_layout(
    width=W, height=H, autosize=False,
    margin=dict(l=0, r=0, t=0, b=0),
    paper_bgcolor="white", plot_bgcolor="white",
    font=dict(family=SERIF, color="black"),
    xaxis=xaxis_cfg(pa["x"], "y"),
    yaxis=yaxis_cfg(pa["y"], "x", [-2.5, 3], a_ticks, a_tick_text, 0.5),
    xaxis2=xaxis_cfg(pb["x"], "y2"),
    yaxis2=yaxis_cfg(pb["y"], "x2", [-0.08, 0.12], b_ticks, b_tick_text, 0.01, size=17),
    xaxis3=xaxis_cfg(pc["x"], "y3"),
    yaxis3=yaxis_cfg(pc["y"], "x3", [-6, 10], c_ticks, c_tick_text, 1),
    xaxis4=xaxis_cfg(pd["x"], "y4"),
    yaxis4=yaxis_cfg(pd["y"], "x4", [-5, 8], d_ticks, d_tick_text, 1),
    legend=legend_cfg(100, 383, 80),
    legend2=legend_cfg(96, 742, 64),
    legend3=legend_cfg(86, 1111, 71),
)


def ann(text, xpx, ypx, size, angle=0, bold=True):
    fig.add_annotation(text=text, x=xpx / W, y=1 - ypx / H, xref="paper", yref="paper",
                       xanchor="center", yanchor="middle", showarrow=False,
                       textangle=angle,
                       font=dict(family=SERIF, size=size, color="black",
                                 weight="bold" if bold else "normal"))


# x-axis titles
ann("Time/min", 325, 289, 20)
ann("Time/min", 334, 628, 20)
ann("Time/min", 324, 998, 20)
ann("Time/min", 321, 1368, 20)

# y-axis titles
ann("\u0394<i>P</i><sub>L<i>i</i></sub> /10<sup>-2</sup>MW(p.u.)", 28, 130, 20, -90)
ann("Frequency deviation/10<sup>-2</sup>Hz(p.u.)", 27, 476, 20, -90)
ann("Power output of BESSs/10<sup>-4</sup>MW(p.u.)", 27, 839, 20, -90)
ann("Power output of BESSs/10<sup>-4</sup>MW(p.u.)", 22, 1207, 20, -90)

# panel labels
ann("(<b>a</b>)", 299, 316, 21, bold=False)
ann("(<b>b</b>)", 300, 653, 21, bold=False)
ann("(<b>c</b>)", 300, 1022, 21, bold=False)
ann("(<b>d</b>)", 299, 1391, 21, bold=False)

fig.write_html("out.html", config={"displayModeBar": False},
               post_script="document.body.style.margin='0px';")
